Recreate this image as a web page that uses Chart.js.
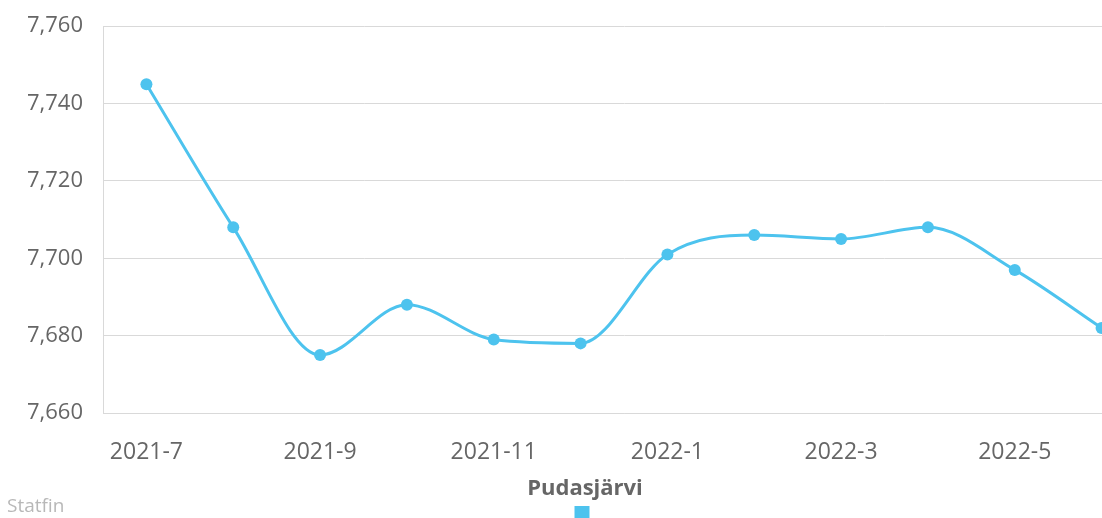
<!DOCTYPE html>
<html>
<head>
<meta charset="utf-8">
<script src="https://cdn.jsdelivr.net/npm/chart.js@4"></script>
<style>
  html, body { margin: 0; padding: 0; background: #fff; overflow: hidden; }
  #wrap { position: relative; width: 1170px; height: 535px; }
  #credit {
    position: absolute; left: 7px; top: 492px;
    font-family: "Open Sans", sans-serif; font-size: 19px; color: #b8b8b8;
  }
</style>
</head>
<body>
<div id="wrap">
  <canvas id="chart" width="1170" height="535"></canvas>
  <div id="credit">Statfin</div>
</div>
<script>
// Population by month, Pudasjärvi
const months = ['2021-7', '2021-8', '2021-9', '2021-10', '2021-11', '2021-12',
                '2022-1', '2022-2', '2022-3', '2022-4', '2022-5', '2022-6'];
const population = [7745, 7708, 7675, 7688, 7679, 7678, 7701, 7706, 7705, 7708, 7697, 7682];
const yTicks = [7660, 7680, 7700, 7720, 7740, 7760];
const seriesName = 'Pudasjärvi';

const lineColor = '#4dc3ee';
const gridColor = '#d9d9d9';
const textColor = '#666';

new Chart(document.getElementById('chart'), {
  type: 'line',
  data: {
    labels: months,
    datasets: [{
      label: '',
      data: population,
      borderColor: lineColor,
      backgroundColor: lineColor,
      borderWidth: 3,
      pointRadius: 6,
      pointHoverRadius: 6,
      pointBorderWidth: 0,
      cubicInterpolationMode: 'monotone',
      fill: false
    }]
  },
  options: {
    responsive: false,
    animation: false,
    layout: { padding: { top: 5, right: 25, left: 25, bottom: 4 } },
    plugins: {
      tooltip: { enabled: false },
      title: { display: false },
      legend: {
        position: 'bottom',
        title: {
          display: true,
          text: seriesName,
          color: textColor,
          font: { family: 'Open Sans', size: 22, weight: 'bold', lineHeight: 1 },
          padding: { top: 0, bottom: 2 }
        },
        labels: {
          boxWidth: 15,
          boxHeight: 15,
          padding: 4,
          color: textColor,
          generateLabels: chart => [{
            text: '',
            fillStyle: lineColor,
            strokeStyle: lineColor,
            lineWidth: 0,
            datasetIndex: 0
          }]
        }
      }
    },
    scales: {
      x: {
        offset: true,
        afterFit: scale => { scale.height = 65; },
        grid: { display: false },
        border: { display: true, color: gridColor, width: 1 },
        ticks: {
          color: textColor,
          font: { family: 'Open Sans', size: 23 },
          padding: 18,
          maxRotation: 0,
          autoSkip: false,
          callback: function(value, index) {
            return index % 2 === 0 ? this.getLabelForValue(value) : '';
          }
        }
      },
      y: {
        min: 7660,
        max: 7760,
        afterBuildTicks: scale => { scale.ticks = yTicks.map(v => ({ value: v })); },
        afterFit: scale => { scale.width = 78; },
        grid: { color: gridColor, drawTicks: true, tickLength: 7, tickColor: 'rgba(0,0,0,0)' },
        border: { display: true, color: gridColor },
        ticks: {
          color: textColor,
          font: { family: 'Open Sans', size: 22 },
          padding: 13,
          callback: value => value.toLocaleString('en-US')
        }
      }
    }
  }
});
</script>
</body>
</html>
